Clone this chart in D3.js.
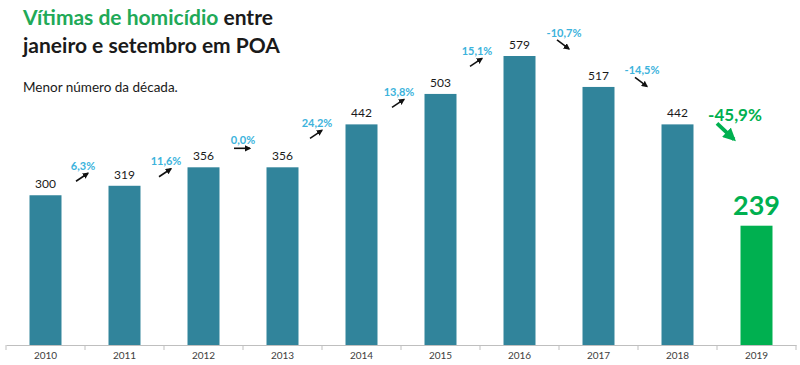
<!DOCTYPE html>
<html>
<head>
<meta charset="utf-8">
<script src="https://cdn.jsdelivr.net/npm/d3@7/dist/d3.min.js"></script>
<style>
  html, body { margin: 0; padding: 0; background: #fff; }
  svg { display: block; font-family: Lato, "Open Sans", sans-serif; }
</style>
</head>
<body>
<svg id="chart" width="800" height="365"></svg>
<script>
// ---- data ----
const years = ["2010","2011","2012","2013","2014","2015","2016","2017","2018","2019"];
const victims = [300, 319, 356, 356, 442, 503, 579, 517, 442, 239];
const changeLabels = ["6,3%","11,6%","0,0%","24,2%","13,8%","15,1%","-10,7%","-14,5%","-45,9%"];
const titleGreen = "Vítimas de homicídio";
const titleRest1 = " entre";
const titleLine2 = "janeiro e setembro em POA";
const subtitle = "Menor número da década.";

// ---- layout (annotation tweaks, pixels) ----
const pctDx = [-2, 2, 0, -5, -2, -3, 5, 4, 18];
const pctDy = [-30, -25, -28, -45, -33, -43.5, -23.6, -17, -10];

const teal = "#31849b";
const green = "#00b050";
const cyan = "#3cb3dc";

const svg = d3.select("#chart");

// arrow markers
const defs = svg.append("defs");
defs.append("marker").attr("id","ah").attr("viewBox","0 0 10 10")
  .attr("refX",8).attr("refY",5).attr("markerWidth",4).attr("markerHeight",4)
  .attr("orient","auto").append("path").attr("d","M0,0 L10,5 L0,10 z").attr("fill","#111");
defs.append("marker").attr("id","ahg").attr("viewBox","0 0 10 10")
  .attr("refX",8).attr("refY",5).attr("markerWidth",3.4).attr("markerHeight",3.4)
  .attr("orient","auto").append("path").attr("d","M0,0 L10,5 L0,10 z").attr("fill",green);

const x = d3.scaleBand().domain(years).range([6, 796]).padding(0);
const y = d3.scaleLinear().domain([0, 579]).range([345, 56]);
const barW = x.bandwidth() * 0.405;

// axis
const axis = d3.axisBottom(x).tickSize(0).tickPadding(7);
const gAxis = svg.append("g").attr("transform","translate(0,345)").call(axis);
gAxis.select(".domain").attr("stroke","#bfbfbf");
gAxis.selectAll(".tick text").attr("font-size",10).attr("fill","#404040")
  .attr("font-family","Lato, 'Open Sans', sans-serif");
// boundary tick marks
svg.append("g").selectAll("line")
  .data(years.concat(["end"]))
  .join("line")
  .attr("x1",(d,i)=> i < years.length ? x(d) : x(years[years.length-1]) + x.bandwidth())
  .attr("x2",(d,i)=> i < years.length ? x(d) : x(years[years.length-1]) + x.bandwidth())
  .attr("y1",345).attr("y2",350).attr("stroke","#bfbfbf");

// bars
svg.append("g").selectAll("rect")
  .data(victims)
  .join("rect")
  .attr("x",(d,i)=> x(years[i]) + (x.bandwidth()-barW)/2)
  .attr("y",d=> y(d))
  .attr("width",barW)
  .attr("height",d=> y(0)-y(d))
  .attr("fill",(d,i)=> i === victims.length-1 ? green : teal);

// value labels
svg.append("g").selectAll("text")
  .data(victims)
  .join("text")
  .attr("x",(d,i)=> x(years[i]) + x.bandwidth()/2)
  .attr("y",(d,i)=> i === victims.length-1 ? y(d) - 11 : y(d) - 7)
  .attr("text-anchor","middle")
  .attr("font-size",(d,i)=> i === victims.length-1 ? 27 : 12)
  .attr("font-weight",(d,i)=> i === victims.length-1 ? 700 : 400)
  .attr("fill",(d,i)=> i === victims.length-1 ? green : "#1a1a1a")
  .text(d=> d);

// change annotations
const ann = svg.append("g");
changeLabels.forEach((lab, k) => {
  const i = k + 1;
  const cx = x(years[i]) + pctDx[k];
  const cy = y(victims[i-1]) + pctDy[k];
  const last = i === victims.length - 1;
  ann.append("text")
    .attr("x", cx).attr("y", cy)
    .attr("text-anchor","middle").attr("dominant-baseline","central")
    .attr("font-size", last ? 17 : 11)
    .attr("font-weight", 700)
    .attr("fill", last ? green : cyan)
    .text(lab);
  const diff = victims[i] - victims[i-1];
  if (last) {
    ann.append("line")
      .attr("x1", cx - 18).attr("y1", cy + 9)
      .attr("x2", cx - 1).attr("y2", cy + 25)
      .attr("stroke", green).attr("stroke-width", 3.8)
      .attr("marker-end","url(#ahg)");
  } else {
    const ax = cx - 1, ay = cy + 12;
    let x1, y1, x2, y2;
    if (diff > 0) { x1 = ax-6; y1 = ay+4; x2 = ax+6; y2 = ay-4; }
    else if (diff < 0) { x1 = ax-6; y1 = ay-4.5; x2 = ax+6; y2 = ay+4.5; }
    else { x1 = ax-8; y1 = ay-3; x2 = ax+8; y2 = ay-3; }
    ann.append("line")
      .attr("x1",x1).attr("y1",y1).attr("x2",x2).attr("y2",y2)
      .attr("stroke","#111").attr("stroke-width",1.6)
      .attr("marker-end","url(#ah)");
  }
});

// titles
const t1 = svg.append("text").attr("x",23).attr("y",25)
  .attr("font-size",21).attr("font-weight",700);
t1.append("tspan").attr("fill","#21a957").text(titleGreen);
t1.append("tspan").attr("fill","#1a1a1a").text(titleRest1);
svg.append("text").attr("x",23).attr("y",53)
  .attr("font-size",21).attr("font-weight",700).attr("fill","#1a1a1a")
  .text(titleLine2);
svg.append("text").attr("x",23).attr("y",92)
  .attr("font-size",13.5).attr("fill","#1a1a1a").text(subtitle);
</script>
</body>
</html>
